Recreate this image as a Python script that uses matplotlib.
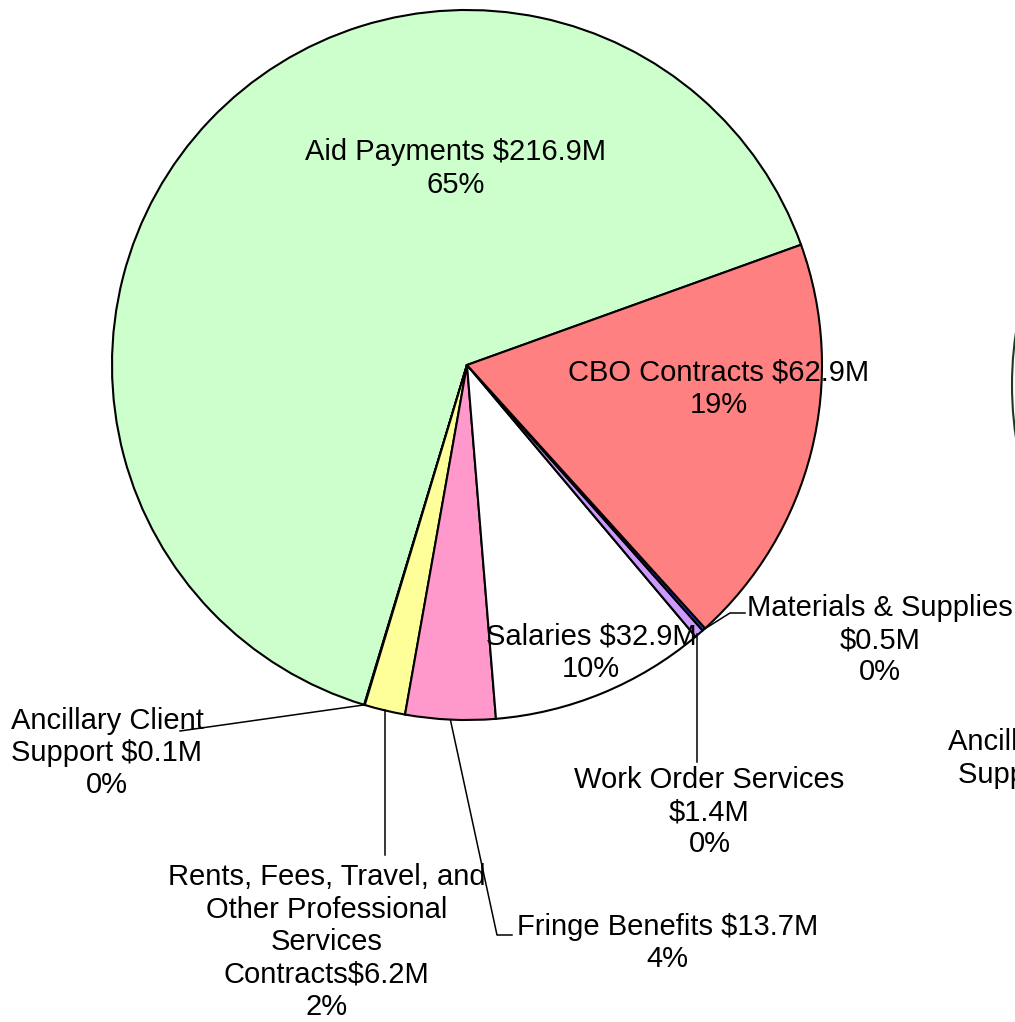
import numpy as np
import matplotlib
matplotlib.use("Agg")
import matplotlib.pyplot as plt
from matplotlib.patches import Circle

plt.rcParams['font.family'] = ['Liberation Sans', 'DejaVu Sans']

# Data (counter-clockwise order starting at the Aid/CBO boundary)
categories = ["Aid Payments", "Ancillary Client Support",
              "Rents, Fees, Travel, and Other Professional Services Contracts",
              "Fringe Benefits", "Salaries", "Work Order Services",
              "Materials & Supplies", "CBO Contracts"]
values = [216.9, 0.1, 6.2, 13.7, 32.9, 1.4, 0.5, 62.9]
percents = ["65%", "0%", "2%", "4%", "10%", "0%", "0%", "19%"]
labels = [
    "Aid Payments $216.9M\n65%",
    "Ancillary Client\nSupport $0.1M\n0%",
    "Rents, Fees, Travel, and\nOther Professional\nServices\nContracts$6.2M\n2%",
    "Fringe Benefits $13.7M\n4%",
    "Salaries $32.9M\n10%",
    "Work Order Services\n$1.4M\n0%",
    "Materials & Supplies\n$0.5M\n0%",
    "CBO Contracts $62.9M\n19%",
]
colors = ["#CCFFCC", "#FFFFCC", "#FFFF99", "#FF99CC", "#FFFFFF",
          "#CC99FF", "#3333CC", "#FF8080"]

W, H = 1015, 1022
fig = plt.figure(figsize=(W / 100, H / 100), dpi=100)
ax = fig.add_axes([0, 0, 1, 1])

def Y(y):
    return H - y

cx, cy, R = 467, Y(365), 355
wedges, _ = ax.pie(values, colors=colors, startangle=19.8, counterclock=True,
                   center=(cx, cy), radius=R,
                   wedgeprops=dict(edgecolor="black", linewidth=1.5))
ax.set_xlim(0, W)
ax.set_ylim(0, H)
ax.set_aspect("equal")
ax.axis("off")

fs = 21
# label centers (pixel coords, image y down)
label_pos = {
    0: (456, 168.5),
    1: (107, 753),
    2: (326.5, 942),
    3: (667.5, 943),
    4: (591, 652.5),
    5: (709.5, 812),
    6: (880, 640),
    7: (719, 389),
}
for i, lab in enumerate(labels):
    x, y = label_pos[i]
    ax.text(x, Y(y), lab, ha="center", va="center", multialignment="center",
            fontsize=fs, color="black", zorder=5)

def edge_point(i):
    w = wedges[i]
    th = np.deg2rad((w.theta1 + w.theta2) / 2)
    return cx + R * np.cos(th), cy + R * np.sin(th)

# leader line paths (after edge point), image coordinates
leaders = {
    1: [(180, 731)],
    2: [(385, 855)],
    3: [(497, 935), (512, 935)],
    5: [(697, 762)],
    6: [(730, 613), (745, 613)],
}
for i, pts in leaders.items():
    x0, y0 = edge_point(i)
    xs = [x0] + [p[0] for p in pts]
    ys = [y0] + [Y(p[1]) for p in pts]
    if i in (2, 5):
        xs[0] = xs[1]
    ax.plot(xs, ys, color="black", linewidth=1.1, zorder=4, clip_on=False)

# partially visible second chart at right edge
ax.add_patch(Circle((1012 + 355, Y(385)), 355, facecolor="white",
                    edgecolor="#203820", linewidth=1.5, clip_on=True))
ax.text(948, Y(742), "Ancillary Client", ha="left", va="center", fontsize=fs)
ax.text(958, Y(775), "Support $0.1M", ha="left", va="center", fontsize=fs)

fig.savefig("out.png", dpi=100)
